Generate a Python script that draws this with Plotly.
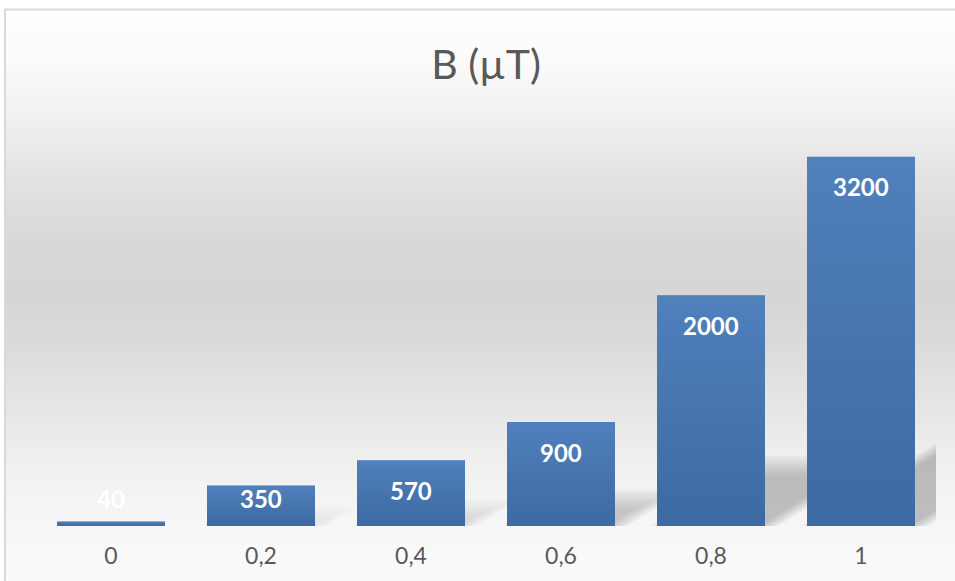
import numpy as np
import plotly.graph_objects as go

# ---- data ----
categories = ["0", "0,2", "0,4", "0,6", "0,8", "1"]
b_values = [40, 350, 570, 900, 2000, 3200]
chart_title = "B (µT)"

# ---- geometry (pixels) ----
W, H = 955, 581
M_L, M_R, M_T, M_B = 36, 19, 122, 55
Y_MAX = 3500
plot_w = W - M_L - M_R
plot_h = H - M_T - M_B
ppu = plot_h / Y_MAX              # pixels per data unit
cat_px = plot_w / len(categories)  # pixels per category
bar_w = 0.72

xs = list(range(len(categories)))


def px_to_paper_x(px):
    return (px - M_L) / plot_w


def px_to_paper_y(py):
    return (H - M_B - py) / plot_h


shapes = []

# chart-area background: soft vertical grey band
grad_y = [10, 60, 120, 180, 250, 300, 340, 420, 470, 510, 540, 581]
grad_v = [254, 251, 240, 226, 215, 214, 218, 232, 241, 245, 248, 250]
step = 3
for y0 in range(10, H, step):
    g = int(round(np.interp(y0 + step / 2, grad_y, grad_v)))
    shapes.append(dict(
        type="rect", xref="paper", yref="paper", layer="below",
        x0=px_to_paper_x(5), x1=px_to_paper_x(W + 2),
        y0=px_to_paper_y(y0), y1=px_to_paper_y(min(y0 + step + 0.5, H + 1)),
        fillcolor=f"rgb({g},{g},{g})", line=dict(width=0),
    ))

# chart frame (left and top edges)
shapes.append(dict(type="line", xref="paper", yref="paper", layer="above",
                   x0=px_to_paper_x(5), x1=px_to_paper_x(5),
                   y0=px_to_paper_y(9.5), y1=px_to_paper_y(H + 2),
                   line=dict(color="#d9d9d9", width=2)))
shapes.append(dict(type="line", xref="paper", yref="paper", layer="above",
                   x0=px_to_paper_x(4), x1=px_to_paper_x(W + 2),
                   y0=px_to_paper_y(9.5), y1=px_to_paper_y(9.5),
                   line=dict(color="#d9d9d9", width=2)))

# perspective shadows cast up and to the right of each bar (layered for softness)
SH_K = 0.26       # shadow height relative to bar height
SH_SLOPE = 0.6    # rise over run of the skewed edge
blur_steps = list(np.linspace(-10, 10, 11))
for i, v in zip(xs, b_values):
    h_px = v * ppu
    top_px = SH_K * h_px
    dx_px = top_px / SH_SLOPE
    alpha = 0.036 * min(1.0, top_px / 30)
    if alpha < 0.004:
        continue
    for d in blur_steps:
        t = max(top_px - d, 0)
        xl = i - bar_w / 2 + d / cat_px
        xr = i + bar_w / 2 - d / cat_px
        off = dx_px * (t / top_px if top_px else 0) / cat_px
        yt = t / ppu
        path = (f"M{xl},{-20} L{xr},{-20} L{xr + off},{yt} "
                f"L{xl + off},{yt} Z")
        shapes.append(dict(type="path", xref="x", yref="y", layer="below",
                           path=path, fillcolor=f"rgba(90,90,90,{alpha:.4f})",
                           line=dict(width=0)))

fig = go.Figure()

# bars
fig.add_trace(go.Bar(
    x=xs, y=b_values, width=bar_w,
    marker=dict(color="#4675b0", line=dict(width=0)),
    hoverinfo="skip", showlegend=False,
))

# vertical shading over each bar: lighter at the top, darker at the base
for i, v in zip(xs, b_values):
    x0, x1 = i - bar_w / 2, i + bar_w / 2
    fig.add_trace(go.Scatter(
        x=[x0, x1, x1, x0, x0], y=[0, 0, v, v, 0],
        mode="lines", line=dict(width=0), fill="toself",
        fillgradient=dict(type="vertical", start=0, stop=v,
                          colorscale=[[0, "rgba(40,80,130,0.30)"],
                                      [1, "rgba(100,152,212,0.35)"]]),
        hoverinfo="skip", showlegend=False,
    ))

# value labels near the top of each bar
annotations = []
for i, v in zip(xs, b_values):
    y_lab = max(v - 30 / ppu, 28 / ppu)
    annotations.append(dict(
        x=i, y=y_lab, xref="x", yref="y", text=str(v), showarrow=False,
        yanchor="middle", xanchor="center",
        font=dict(family="Lato", size=24, color="white", weight="bold"),
    ))

fig.update_layout(
    width=W, height=H,
    margin=dict(l=M_L, r=M_R, t=M_T, b=M_B, pad=0),
    paper_bgcolor="white",
    plot_bgcolor="rgba(0,0,0,0)",
    title=dict(text=chart_title, x=486 / W, y=1 - 65 / H,
               xanchor="center", yanchor="middle",
               font=dict(family="Lato", size=41, color="#595959")),
    xaxis=dict(range=[-0.5, len(categories) - 0.5], tickvals=xs,
               ticktext=categories, showgrid=False, zeroline=False,
               showline=False, ticks="", ticklabelstandoff=14,
               tickfont=dict(family="Lato", size=23, color="#595959"),
               fixedrange=True),
    yaxis=dict(range=[0, Y_MAX], visible=False, showgrid=False,
               zeroline=False, fixedrange=True),
    shapes=shapes,
    annotations=annotations,
    bargap=0.28,
)

fig.write_html("out.html")
